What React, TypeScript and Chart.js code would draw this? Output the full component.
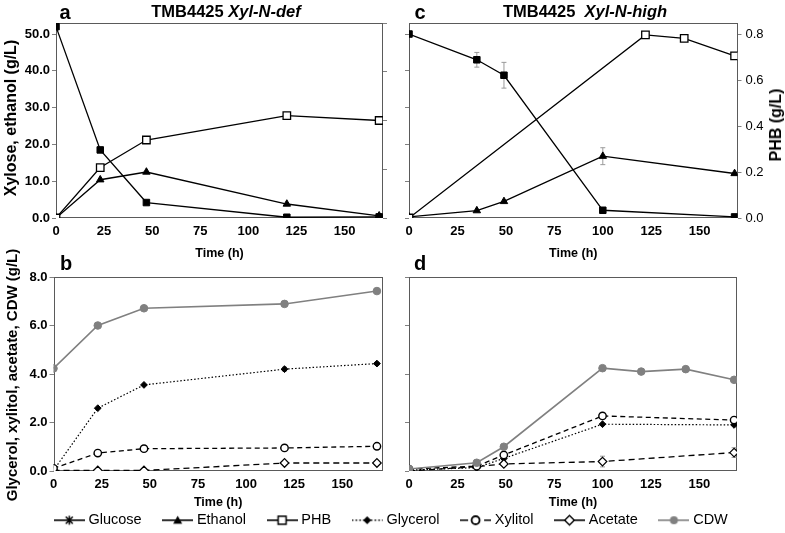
import React, { useEffect, useRef } from 'react';
import { Chart, registerables } from 'chart.js';

Chart.register(...registerables);

const FONT = "'Liberation Sans', Arial, Helvetica, sans-serif";

// ---------- Panel a : TMB4425 Xyl-N-def (xylose, ethanol, PHB) ----------
const timeA = [0, 23, 47, 120, 168];
const xyloseA = [52.0, 18.5, 4.2, 0.2, 0.3];
const ethanolA = [0.0, 10.4, 12.5, 3.8, 0.6];
const phbA = [0.0, 0.207, 0.32, 0.42, 0.4];
const phbErrA = [0, 0.012, 0, 0, 0];

// ---------- Panel b : Xyl-N-def (glycerol, xylitol, acetate, CDW) ----------
const timeB = [0, 23, 47, 120, 168];
const cdwB = [4.23, 6.0, 6.71, 6.89, 7.42];
const cdwErrB = [0, 0, 0, 0.05, 0.07];
const glycerolB = [0.03, 2.59, 3.55, 4.2, 4.43];
const glycerolErrB = [0, 0, 0, 0.08, 0.05];
const xylitolB = [0.11, 0.74, 0.92, 0.95, 1.02];
const acetateB = [0.02, 0.02, 0.02, 0.33, 0.33];

// ---------- Panel c : TMB4425 Xyl-N-high ----------
const timeC = [0, 35, 49, 100, 168];
const xyloseC = [50.0, 43.0, 38.8, 2.1, 0.3];
const xyloseErrC = [0, 2.0, 3.5, 0, 0];
const ethanolC = [0.3, 2.0, 4.5, 16.8, 12.1];
const ethanolErrC = [0, 0, 0, 2.3, 0];
const timePhbC = [0, 122, 142, 168];
const phbC = [0.0, 0.796, 0.781, 0.705];

// ---------- Panel d : Xyl-N-high ----------
const timeD = [0, 35, 49, 100, 168];
const timeCdwD = [0, 35, 49, 100, 120, 143, 168];
const cdwD = [0.08, 0.34, 1.0, 4.24, 4.1, 4.2, 3.76];
const cdwErrD = [0, 0.12, 0, 0, 0, 0, 0];
const xylitolD = [0.08, 0.2, 0.66, 2.27, 2.1];
const glycerolD = [0.04, 0.14, 0.52, 1.93, 1.9];
const glycerolErrD = [0, 0, 0.1, 0, 0];
const acetateD = [0.0, 0.18, 0.29, 0.39, 0.76];
const acetateErrD = [0, 0, 0, 0.22, 0.2];

const legendLabels = ['Glucose', 'Ethanol', 'PHB', 'Glycerol', 'Xylitol', 'Acetate', 'CDW'];
const legendKinds = ['glucose', 'ethanol', 'phb', 'glycerol', 'xylitol', 'acetate', 'cdw'];

const GREY = '#808080';

const styles: Record<string, any> = {
  xylose: { borderColor: '#000', borderWidth: 1.3, pointStyle: 'rect', pointRadius: 4.6, pointBackgroundColor: '#000', pointBorderColor: '#000', pointBorderWidth: 1 },
  ethanol: { borderColor: '#000', borderWidth: 1.3, pointStyle: 'triangle', pointRadius: 4.3, pointBackgroundColor: '#000', pointBorderColor: '#000', pointBorderWidth: 1 },
  phb: { borderColor: '#000', borderWidth: 1.3, pointStyle: 'rect', pointRadius: 5.3, pointBackgroundColor: '#fff', pointBorderColor: '#000', pointBorderWidth: 1.3 },
  glycerol: { borderColor: '#000', borderWidth: 1.2, borderDash: [1.5, 2], pointStyle: 'rectRot', pointRadius: 3.4, pointBackgroundColor: '#000', pointBorderColor: '#000', pointBorderWidth: 1 },
  xylitol: { borderColor: '#000', borderWidth: 1.3, borderDash: [5, 3.5], pointStyle: 'circle', pointRadius: 3.7, pointBackgroundColor: '#fff', pointBorderColor: '#000', pointBorderWidth: 1.4 },
  acetate: { borderColor: '#000', borderWidth: 1.3, borderDash: [6, 4], pointStyle: 'rectRot', pointRadius: 4.3, pointBackgroundColor: '#fff', pointBorderColor: '#000', pointBorderWidth: 1.2 },
  cdw: { borderColor: GREY, borderWidth: 1.6, pointStyle: 'circle', pointRadius: 3.8, pointBackgroundColor: GREY, pointBorderColor: GREY, pointBorderWidth: 1 },
};

function series(label: string, xs: number[], ys: number[], style: any, yAxisID = 'y', errors?: number[]) {
  return {
    label,
    data: xs.map((x, i) => ({ x, y: ys[i] })),
    yAxisID,
    errors,
    ...style,
    pointHoverRadius: style.pointRadius,
    tension: 0,
    fill: false,
  };
}

const framePlugin = {
  id: 'frame',
  beforeDatasetsDraw(chart: any) {
    const { ctx, chartArea: a } = chart;
    ctx.save();
    ctx.strokeStyle = '#5a5a5a';
    ctx.lineWidth = 1;
    const l = Math.round(a.left) + 0.5;
    const t = Math.round(a.top) + 0.5;
    const r = Math.round(a.right) - 0.5;
    const b = Math.round(a.bottom) - 0.5;
    ctx.strokeRect(l, t, r - l, b - t);
    ctx.restore();
  },
};

const errorBarPlugin = {
  id: 'errorBars',
  beforeDatasetsDraw(chart: any) {
    const ctx = chart.ctx;
    ctx.save();
    ctx.strokeStyle = '#9a9a9a';
    ctx.lineWidth = 1;
    chart.data.datasets.forEach((ds: any, i: number) => {
      if (!ds.errors) return;
      const meta = chart.getDatasetMeta(i);
      const ys = chart.scales[meta.yAxisID];
      ds.data.forEach((p: any, j: number) => {
        const e = ds.errors[j];
        if (!e) return;
        const px = meta.data[j].x;
        const top = ys.getPixelForValue(p.y + e);
        const bot = ys.getPixelForValue(Math.max(p.y - e, ys.min));
        ctx.beginPath();
        ctx.moveTo(px, top);
        ctx.lineTo(px, bot);
        ctx.moveTo(px - 2.5, top);
        ctx.lineTo(px + 2.5, top);
        ctx.moveTo(px - 2.5, bot);
        ctx.lineTo(px + 2.5, bot);
        ctx.stroke();
      });
    });
    ctx.restore();
  },
};

const tickFont = { family: FONT, size: 13, weight: 'bold' as const };
const timeFont = { family: FONT, size: 12.5, weight: 'bold' as const };

function xAxis(max: number, height: number, titleBottom: number) {
  return {
    type: 'linear',
    position: 'bottom',
    min: 0,
    max,
    ticks: { stepSize: 25, includeBounds: false, autoSkip: false, maxRotation: 0, padding: 6, color: '#000', font: tickFont, callback: (v: any) => String(v) },
    grid: { display: false, drawTicks: false, tickLength: 0 },
    border: { display: false },
    title: { display: true, text: 'Time (h)', color: '#000', font: timeFont, padding: { top: 0, bottom: titleBottom } },
    afterFit: (s: any) => { s.height = height; },
  };
}

function yAxis(o: { position: string; max: number; step: number; width: number; labels: boolean; font?: any; pad?: number }) {
  return {
    type: 'linear',
    position: o.position,
    min: 0,
    max: o.max,
    ticks: {
      display: o.labels,
      stepSize: o.step,
      includeBounds: false,
      padding: o.pad ?? 2,
      color: '#000',
      font: o.font ?? tickFont,
      callback: (v: any) => Number(v).toFixed(1),
    },
    grid: { display: true, drawOnChartArea: false, drawTicks: true, tickLength: 4, color: '#808080', lineWidth: 1 },
    border: { display: false },
    afterFit: (s: any) => { s.width = o.width; },
  };
}

function baseOptions(padding: any, scales: any) {
  return {
    animation: false,
    responsive: false,
    maintainAspectRatio: false,
    events: [],
    layout: { padding },
    plugins: { legend: { display: false }, tooltip: { enabled: false }, title: { display: false } },
    scales,
  };
}

function configA() {
  return {
    type: 'line',
    data: {
      datasets: [
        series('PHB', timeA, phbA, styles.phb, 'y1', phbErrA),
        series('Xylose', timeA, xyloseA, styles.xylose),
        series('Ethanol', timeA, ethanolA, styles.ethanol),
      ],
    },
    options: baseOptions({ left: 0, top: 23, right: 3, bottom: 0 }, {
      x: xAxis(170, 44, 1.2),
      y: yAxis({ position: 'left', max: 53, step: 10, width: 56, labels: true }),
      y1: yAxis({ position: 'right', max: 0.8, step: 0.2, width: 6, labels: false }),
    }),
    plugins: [framePlugin, errorBarPlugin],
  };
}

function configB() {
  return {
    type: 'line',
    data: {
      datasets: [
        series('CDW', timeB, cdwB, styles.cdw, 'y', cdwErrB),
        series('Xylitol', timeB, xylitolB, styles.xylitol),
        series('Acetate', timeB, acetateB, styles.acetate),
        series('Glycerol', timeB, glycerolB, styles.glycerol, 'y', glycerolErrB),
      ],
    },
    options: baseOptions({ left: 0, top: 37, right: 9.3, bottom: 0 }, {
      x: xAxis(171, 62, 22.8),
      y: yAxis({ position: 'left', max: 8, step: 2, width: 53.5, labels: true }),
    }),
    plugins: [framePlugin, errorBarPlugin],
  };
}

function configC() {
  return {
    type: 'line',
    data: {
      datasets: [
        series('PHB', timePhbC, phbC, styles.phb, 'y1'),
        series('Xylose', timeC, xyloseC, styles.xylose, 'y', xyloseErrC),
        series('Ethanol', timeC, ethanolC, styles.ethanol, 'y', ethanolErrC),
      ],
    },
    options: baseOptions({ left: 0, top: 23, right: 0, bottom: 0 }, {
      x: xAxis(169.5, 44, 1.2),
      y: yAxis({ position: 'left', max: 53, step: 10, width: 17, labels: false }),
      y1: yAxis({ position: 'right', max: 0.848, step: 0.2, width: 47.5, labels: true, pad: 4, font: { family: FONT, size: 13, weight: 'normal' } }),
    }),
    plugins: [framePlugin, errorBarPlugin],
  };
}

function configD() {
  return {
    type: 'line',
    data: {
      datasets: [
        series('CDW', timeCdwD, cdwD, styles.cdw, 'y', cdwErrD),
        series('Xylitol', timeD, xylitolD, styles.xylitol),
        series('Acetate', timeD, acetateD, styles.acetate, 'y', acetateErrD),
        series('Glycerol', timeD, glycerolD, styles.glycerol, 'y', glycerolErrD),
      ],
    },
    options: baseOptions({ left: 0, top: 37, right: 48, bottom: 0 }, {
      x: xAxis(169.5, 62, 22.8),
      y: yAxis({ position: 'left', max: 8, step: 2, width: 17, labels: false }),
    }),
    plugins: [framePlugin, errorBarPlugin],
  };
}

function makeIcon(kind: string) {
  const c = document.createElement('canvas');
  c.width = 31;
  c.height = 14;
  const g = c.getContext('2d')!;
  const cx = 15.5;
  const cy = 7;
  const col = kind === 'cdw' ? GREY : '#000';
  g.strokeStyle = col;
  g.fillStyle = col;
  g.lineWidth = 1.6;
  if (kind === 'glycerol') g.setLineDash([1.6, 2.2]);
  if (kind === 'xylitol') g.setLineDash([8, 4]);
  g.beginPath();
  g.moveTo(0, cy);
  g.lineTo(31, cy);
  g.stroke();
  g.setLineDash([]);
  g.beginPath();
  switch (kind) {
    case 'glucose':
      g.lineWidth = 1.5;
      g.moveTo(cx, cy - 4.5); g.lineTo(cx, cy + 4.5);
      g.moveTo(cx - 3.5, cy - 3.5); g.lineTo(cx + 3.5, cy + 3.5);
      g.moveTo(cx + 3.5, cy - 3.5); g.lineTo(cx - 3.5, cy + 3.5);
      g.stroke();
      break;
    case 'ethanol':
      g.moveTo(cx, cy - 4.5); g.lineTo(cx + 4.5, cy + 3.5); g.lineTo(cx - 4.5, cy + 3.5); g.closePath();
      g.fill();
      break;
    case 'phb':
      g.fillStyle = '#fff';
      g.rect(cx - 4, cy - 4, 8, 8);
      g.fill(); g.lineWidth = 1.5; g.stroke();
      break;
    case 'glycerol':
      g.moveTo(cx, cy - 4); g.lineTo(cx + 4, cy); g.lineTo(cx, cy + 4); g.lineTo(cx - 4, cy); g.closePath();
      g.fill();
      break;
    case 'xylitol':
      g.fillStyle = '#fff';
      g.arc(cx, cy, 4, 0, Math.PI * 2);
      g.fill(); g.lineWidth = 1.8; g.stroke();
      break;
    case 'acetate':
      g.fillStyle = '#fff';
      g.moveTo(cx, cy - 4.8); g.lineTo(cx + 4.8, cy); g.lineTo(cx, cy + 4.8); g.lineTo(cx - 4.8, cy); g.closePath();
      g.fill(); g.lineWidth = 1.4; g.stroke();
      break;
    case 'cdw':
      g.arc(cx, cy, 4, 0, Math.PI * 2);
      g.fill();
      break;
  }
  return c;
}

function configLegend() {
  const icons = legendKinds.map(makeIcon);
  return {
    type: 'line',
    data: { datasets: legendLabels.map((label) => ({ label, data: [] as any[] })) },
    options: {
      animation: false,
      responsive: false,
      maintainAspectRatio: false,
      events: [],
      layout: { padding: 0 },
      scales: { x: { display: false }, y: { display: false } },
      plugins: {
        tooltip: { enabled: false },
        legend: {
          display: true,
          position: 'top',
          align: 'center',
          maxHeight: 60,
          labels: {
            usePointStyle: true,
            pointStyleWidth: 24,
            padding: 24,
            color: '#000',
            font: { family: FONT, size: 14.5 },
            generateLabels: () =>
              legendLabels.map((text, i) => ({
                text,
                pointStyle: icons[i],
                fillStyle: '#000',
                strokeStyle: '#000',
                lineWidth: 0,
                hidden: false,
                datasetIndex: i,
                fontColor: '#000',
              })),
          },
        },
      },
    },
  };
}

function ChartCanvas(props: { left: number; top: number; width: number; height: number; make: () => any }) {
  const ref = useRef<HTMLCanvasElement>(null);
  useEffect(() => {
    const chart = new Chart(ref.current as HTMLCanvasElement, props.make());
    return () => chart.destroy();
  }, []);
  return (
    <canvas
      ref={ref}
      width={props.width}
      height={props.height}
      style={{ position: 'absolute', left: props.left, top: props.top, width: props.width, height: props.height }}
    />
  );
}

function Text(props: { x: number; y: number; rotate?: boolean; size: number; weight?: string; children: any }) {
  return (
    <div
      style={{
        position: 'absolute',
        left: props.x,
        top: props.y,
        transform: `translate(-50%, -50%)${props.rotate ? ' rotate(-90deg)' : ''}`,
        whiteSpace: 'pre',
        lineHeight: 1,
        fontFamily: FONT,
        fontSize: props.size,
        fontWeight: (props.weight ?? 'bold') as any,
        color: '#000',
      }}
    >
      {props.children}
    </div>
  );
}

export default function App() {
  useEffect(() => {
    document.body.style.margin = '0';
  }, []);
  return (
    <div style={{ position: 'absolute', left: 0, top: 0, width: 785, height: 533, overflow: 'hidden', background: '#fff' }}>
      <ChartCanvas left={0} top={0} width={392} height={262} make={configA} />
      <ChartCanvas left={392} top={0} width={393} height={262} make={configC} />
      <ChartCanvas left={0} top={240} width={392} height={293} make={configB} />
      <ChartCanvas left={392} top={240} width={393} height={293} make={configD} />
      <ChartCanvas left={0} top={489} width={785} height={44} make={configLegend} />

      <Text x={65} y={12} size={20}>a</Text>
      <Text x={420} y={12} size={20}>c</Text>
      <Text x={66} y={263} size={20}>b</Text>
      <Text x={420} y={263} size={20}>d</Text>

      <Text x={226} y={11} size={16.5}>
        TMB4425 <span style={{ fontStyle: 'italic' }}>Xyl-N-def</span>
      </Text>
      <Text x={585} y={11} size={16.5}>
        TMB4425  <span style={{ fontStyle: 'italic' }}>Xyl-N-high</span>
      </Text>

      <Text x={11} y={118} size={16} rotate>Xylose, ethanol (g/L)</Text>
      <Text x={11} y={375} size={15} rotate>Glycerol, xylitol, acetate, CDW (g/L)</Text>
      <Text x={776} y={125} size={16} rotate>PHB (g/L)</Text>
    </div>
  );
}
